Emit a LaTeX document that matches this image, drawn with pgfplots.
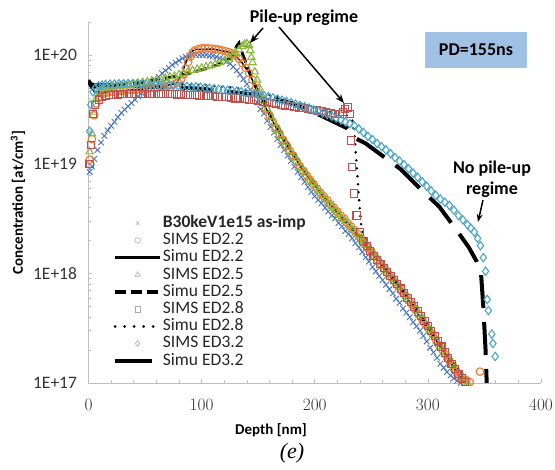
\documentclass[border=0pt]{standalone}
\usepackage{pgfplots}
\pgfplotsset{compat=1.18}
\usepackage{fontspec}
\setmainfont{Carlito}
\newfontfamily\timesfont{Liberation Serif}
\usetikzlibrary{arrows.meta}
\definecolor{cblue}{RGB}{70,114,196}
\definecolor{corange}{RGB}{237,125,49}
\definecolor{cgreen}{RGB}{140,182,60}
\definecolor{cred}{RGB}{192,80,77}
\definecolor{ccyan}{RGB}{75,165,200}
\definecolor{pdbox}{RGB}{160,192,228}
\definecolor{axgray}{RGB}{190,190,190}
\definecolor{lggray}{RGB}{170,170,170}
\begin{document}
\begin{tikzpicture}
\path[use as bounding box] (-88.5pt,-87pt) rectangle (466.5pt,383pt);
\begin{axis}[
  scale only axis, width=452.5pt, height=361pt,
  at={(0pt,0pt)}, anchor=south west,
  xmin=0, xmax=400, ymin=1e17, ymax=2e20, ymode=log,
  axis lines*=left,
  axis line style={draw=axgray, line width=0.8pt},
  tick style={draw=axgray, line width=0.6pt},
  tick align=inside,
  major tick length=4pt, minor tick length=3pt,
  xtick={0,100,200,300,400},
  minor xtick={20,40,60,80,120,140,160,180,220,240,260,280,320,340,360,380},
  ytick={1e17,1e18,1e19,1e20},
  yticklabels={1E+17,1E+18,1E+19,1E+20},
  minor ytick={2e17,3e17,4e17,5e17,6e17,7e17,8e17,9e17,2e18,3e18,4e18,5e18,6e18,7e18,8e18,9e18,2e19,3e19,4e19,5e19,6e19,7e19,8e19,9e19,2e20},
  ticklabel style={font=\fontsize{17.5}{20}\selectfont, text=black!80},
  xticklabel style={yshift=-13pt},
  yticklabel style={xshift=-8pt},
  legend style={at={(0.054,0.467)}, anchor=north west, draw=none, fill=none,
    inner sep=0pt, row sep=0pt, font=\fontsize{17.5}{20}\selectfont,
    nodes={inner sep=1pt, text height=12pt, text depth=3.2pt, text=black!85}},
  legend cell align=left,
  legend image code/.code={\draw[mark repeat=2,mark phase=2] plot coordinates {(0pt,0pt)(22.5pt,0pt)(45pt,0pt)};},
]
% ---- legend images ----
\addlegendimage{only marks, mark=x, mark size=2.5pt, draw=lggray, line width=0.6pt}
\addlegendentry{\textbf{B30keV1e15 as-imp}}
\addlegendimage{only marks, mark=o, mark size=2.8pt, draw=lggray, line width=0.6pt}
\addlegendentry{SIMS ED2.2}
\addlegendimage{black, line width=3.5pt}
\addlegendentry{Simu ED2.2}
\addlegendimage{only marks, mark=triangle, mark size=3pt, draw=lggray, line width=0.6pt}
\addlegendentry{SIMS ED2.5}
\addlegendimage{black, line width=3.5pt, dash pattern=on 11pt off 5pt}
\addlegendentry{Simu ED2.5}
\addlegendimage{only marks, mark=square, mark size=2.8pt, draw=lggray, line width=0.6pt}
\addlegendentry{SIMS ED2.8}
\addlegendimage{black, line width=3pt, line cap=round, dash pattern=on 0pt off 9.5pt}
\addlegendentry{Simu ED2.8}
\addlegendimage{only marks, mark=diamond, mark size=3pt, draw=lggray, line width=0.6pt}
\addlegendentry{SIMS ED3.2}
\addlegendimage{black, line width=4pt, legend image code/.code={\draw (0pt,0pt)--(37pt,0pt);}}
\addlegendentry{Simu ED3.2}
% ---- B30keV1e15 as-imp ----
\addplot[forget plot, only marks, mark=x, mark size=4pt, draw=cblue, line width=0.9pt] coordinates {
(1,8.5e18)(3,9.5e18)(5,1.12e19)(8,1.35e19)(11,1.58e19)(14,1.82e19)(17,2.04e19)(20,2.24e19)
(23,2.45e19)(26,2.7e19)(29,2.95e19)(32,3.16e19)(35,3.39e19)(38,3.63e19)(41,3.9e19)(44,4.17e19)
(47,4.47e19)(50,4.8e19)(53,5.1e19)(56,5.5e19)(59,5.9e19)(62,6.3e19)(65,6.8e19)(68,7.2e19)
(71,7.6e19)(74,8.1e19)(77,8.5e19)(80,8.9e19)(83,9.3e19)(86,9.6e19)(89,9.8e19)(92,1.0e20)
(95,1.0e20)(98,1.0e20)(101,1.0e20)(104,1.0e20)(107,9.8e19)(110,9.8e19)(113,9.6e19)(116,9.3e19)
(119,9.1e19)(122,8.7e19)(125,8.3e19)(128,7.8e19)(131,7.2e19)(134,6.6e19)(137,6.0e19)(140,5.4e19)
(143,4.8e19)(146,4.3e19)(149,3.7e19)(152,3.2e19)(155,2.9e19)(158,2.5e19)(161,2.2e19)(164,1.95e19)
(167,1.7e19)(170,1.5e19)(173,1.35e19)(176,1.2e19)(179,1.07e19)(182,9.5e18)(185,8.5e18)(188,7.6e18)
(191,6.9e18)(194,6.2e18)(197,5.6e18)(200,5.1e18)(203,4.7e18)(206,4.4e18)(209,4.0e18)(212,3.7e18)
(215,3.4e18)(218,3.2e18)(221,2.9e18)(224,2.7e18)(227,2.45e18)(230,2.3e18)(233,2.1e18)(236,1.9e18)
(239,1.74e18)(242,1.58e18)(245,1.41e18)(248,1.29e18)(251,1.15e18)(254,1.05e18)(257,9.5e17)(260,8.7e17)
(263,7.9e17)(266,7.2e17)(269,6.6e17)(272,5.9e17)(275,5.4e17)(278,4.8e17)(281,4.4e17)(284,4.0e17)
(287,3.6e17)(290,3.3e17)(293,3.0e17)(296,2.7e17)(299,2.4e17)(302,2.1e17)(305,1.9e17)(308,1.7e17)
(311,1.5e17)(314,1.38e17)(317,1.26e17)(320,1.17e17)(323,1.1e17)(326,1.05e17)(329,1.0e17)
};
% ---- SIMS ED2.2 ----
\addplot[forget plot, only marks, mark=o, mark size=3.8pt, draw=corange, line width=1.1pt] coordinates {
(1,1.1e19)(3,1.7e19)(5,2.8e19)(7,3.6e19)(10,4.1e19)(13,4.4e19)(16,4.5e19)(19,4.6e19)
(22,4.6e19)(25,4.7e19)(28,4.7e19)(31,4.7e19)(34,4.8e19)(37,4.8e19)(40,4.8e19)(43,4.8e19)
(46,4.9e19)(49,4.9e19)(52,4.9e19)(55,5.0e19)(58,5.0e19)(61,5.0e19)(64,5.1e19)(67,5.1e19)
(70,5.2e19)(73,5.3e19)(76,5.4e19)(79,5.6e19)(82,6.0e19)(84,6.6e19)(86,7.5e19)(88,8.6e19)
(90,9.6e19)(92,1.05e20)(94,1.1e20)(97,1.13e20)(100,1.15e20)(103,1.15e20)(106,1.15e20)(109,1.14e20)
(112,1.13e20)(115,1.12e20)(118,1.1e20)(121,1.08e20)(124,1.06e20)(127,1.03e20)(130,9.8e19)(133,9.2e19)
(136,8.4e19)(139,7.6e19)(142,6.8e19)(145,5.9e19)(148,5.0e19)(151,4.3e19)(154,3.7e19)(157,3.2e19)
(160,2.8e19)(163,2.45e19)(166,2.15e19)(169,1.9e19)(172,1.68e19)(175,1.5e19)(178,1.33e19)(181,1.2e19)
(184,1.07e19)(187,9.6e18)(190,8.7e18)(193,7.9e18)(196,7.2e18)(199,6.6e18)(202,6.0e18)(205,5.5e18)
(208,5.1e18)(211,4.7e18)(214,4.3e18)(217,4.0e18)(220,3.7e18)(223,3.4e18)(226,3.2e18)(229,2.9e18)
(232,2.7e18)(235,2.5e18)(238,2.3e18)(241,2.1e18)(244,1.9e18)(247,1.75e18)(250,1.6e18)(253,1.45e18)
(256,1.32e18)(259,1.2e18)(262,1.1e18)(265,1.0e18)(268,9.2e17)(271,8.4e17)(274,7.6e17)(277,6.9e17)
(280,6.3e17)(283,5.7e17)(286,5.2e17)(289,4.7e17)(292,4.2e17)(295,3.8e17)(298,3.4e17)(301,3.1e17)
(304,2.8e17)(307,2.5e17)(310,2.2e17)(313,2.0e17)(316,1.8e17)(319,1.6e17)(322,1.45e17)(325,1.3e17)
(328,1.2e17)(331,1.12e17)(334,1.06e17)(337,1.02e17)(346,1.27e17)
};
% ---- Simu ED2.2 ----
\addplot[forget plot, black, line width=1.5pt] coordinates {
(0,5.6e19)(2,5.2e19)(5,4.6e19)(10,4.6e19)(30,4.7e19)(60,5.0e19)(78,5.5e19)(82,6.5e19)
(86,8.5e19)(90,1.05e20)(94,1.12e20)(110,1.13e20)(124,1.06e20)(130,9.8e19)(136,8.4e19)(142,6.8e19)
(150,4.5e19)(160,2.8e19)(170,1.8e19)(180,1.25e19)(190,8.7e18)(200,6.4e18)(220,3.7e18)(240,2.2e18)
(260,1.2e18)(280,6.3e17)(300,3.2e17)(320,1.55e17)(332,1.0e17)
};
% ---- SIMS ED2.5 ----
\addplot[forget plot, only marks, mark=triangle, mark size=4.2pt, draw=cgreen, line width=1.1pt] coordinates {
(1,1.3e19)(3,1.9e19)(5,3.0e19)(7,4.0e19)(10,4.6e19)(13,4.9e19)(16,5.0e19)(20,5.1e19)
(24,5.2e19)(28,5.2e19)(32,5.3e19)(36,5.3e19)(40,5.4e19)(44,5.5e19)(48,5.6e19)(52,5.7e19)
(56,5.8e19)(60,5.9e19)(64,6.0e19)(68,6.1e19)(72,6.3e19)(76,6.4e19)(80,6.6e19)(84,6.8e19)
(88,7.0e19)(92,7.2e19)(96,7.4e19)(100,7.6e19)(104,7.8e19)(108,8.0e19)(112,8.2e19)(116,8.5e19)
(120,8.8e19)(124,9.3e19)(127,9.9e19)(130,1.05e20)(133,1.12e20)(136,1.2e20)(138,1.25e20)(140,1.27e20)
(142,1.22e20)(143,1.1e20)(144,9.5e19)(145,8.5e19)(147,7.0e19)(149,5.9e19)(151,5.0e19)(153,4.3e19)
(155,3.8e19)(158,3.2e19)(161,2.7e19)(164,2.35e19)(167,2.05e19)(170,1.8e19)(173,1.6e19)(176,1.42e19)
(179,1.27e19)(182,1.14e19)(185,1.02e19)(188,9.2e18)(191,8.3e18)(194,7.5e18)(197,6.8e18)(200,6.2e18)
(203,5.7e18)(206,5.2e18)(209,4.8e18)(212,4.4e18)(215,4.1e18)(218,3.8e18)(221,3.5e18)(224,3.2e18)
(227,3.0e18)(230,2.75e18)(233,2.55e18)(236,2.35e18)(239,2.15e18)(242,2.0e18)(245,1.82e18)(248,1.67e18)
(251,1.52e18)(254,1.4e18)(257,1.28e18)(260,1.17e18)(263,1.07e18)(266,9.8e17)(269,9.0e17)(272,8.2e17)
(275,7.5e17)(278,6.8e17)(281,6.2e17)(284,5.6e17)(287,5.1e17)(290,4.6e17)(293,4.2e17)(296,3.8e17)
(299,3.4e17)(302,3.0e17)(305,2.7e17)(308,2.4e17)(311,2.15e17)(314,1.9e17)(317,1.7e17)(320,1.5e17)
(323,1.35e17)(326,1.22e17)(329,1.12e17)(332,1.05e17)(335,1.0e17)
};
% ---- Simu ED2.5 ----
\addplot[forget plot, black, line width=3pt, dash pattern=on 11pt off 5pt] coordinates {
(0,5.6e19)(3,5.0e19)(10,5.2e19)(40,5.5e19)(80,6.4e19)(110,7.8e19)(122,8.8e19)(128,1.0e20)
(131,1.2e20)(133,1.28e20)(135,1.1e20)(140,8e19)(146,5.5e19)(155,3.8e19)(165,2.4e19)(175,1.6e19)
(190,9e18)(210,4.8e18)(230,2.8e18)(250,1.6e18)(270,8.8e17)(290,4.6e17)(310,2.3e17)(330,1.15e17)(334,1.0e17)
};
% ---- SIMS ED2.8 ----
\addplot[forget plot, only marks, mark=square, mark size=3.6pt, draw=cred, line width=1.1pt] coordinates {
(1,1.0e19)(2,1.5e19)(4,2.9e19)(6,3.5e19)(9,3.9e19)(12,4.1e19)(15,4.2e19)(18,4.3e19)
(22,4.3e19)(26,4.35e19)(30,4.4e19)(34,4.4e19)(38,4.4e19)(42,4.4e19)(46,4.4e19)(50,4.4e19)
(54,4.4e19)(58,4.4e19)(62,4.4e19)(66,4.4e19)(70,4.4e19)(74,4.4e19)(78,4.35e19)(82,4.35e19)
(86,4.3e19)(90,4.3e19)(94,4.3e19)(98,4.25e19)(102,4.25e19)(106,4.2e19)(110,4.2e19)(114,4.15e19)
(118,4.1e19)(122,4.1e19)(126,4.05e19)(130,4.0e19)(134,4.0e19)(138,3.95e19)(142,3.9e19)(146,3.85e19)
(150,3.8e19)(154,3.75e19)(158,3.7e19)(162,3.65e19)(166,3.6e19)(170,3.5e19)(174,3.45e19)(178,3.4e19)
(182,3.35e19)(186,3.3e19)(190,3.25e19)(194,3.2e19)(198,3.15e19)(202,3.1e19)(206,3.05e19)(210,3.0e19)
(214,2.95e19)(218,2.9e19)(222,2.9e19)(225,3.0e19)(227,3.2e19)(229,3.3e19)(231,2.9e19)
(232,1.65e19)(233,9.5e18)(234.5,5.4e18)(237,3.4e18)(240,2.4e18)
(243,2.0e18)(246,1.8e18)(249,1.6e18)(252,1.45e18)(255,1.33e18)(258,1.22e18)(261,1.12e18)(264,1.03e18)
(267,9.5e17)(270,8.7e17)(273,8.0e17)(276,7.3e17)(279,6.6e17)(282,6.0e17)(285,5.5e17)(288,5.0e17)
(291,4.5e17)(294,4.1e17)(297,3.7e17)(300,3.3e17)(303,3.0e17)(306,2.7e17)(309,2.4e17)(312,2.15e17)
(315,1.9e17)(318,1.7e17)(321,1.5e17)(324,1.35e17)(327,1.2e17)(330,1.1e17)(333,1.02e17)
};
% ---- Simu ED2.8 ----
\addplot[forget plot, black, line width=2.8pt, line cap=round, dash pattern=on 0pt off 8pt] coordinates {
(0,5.8e19)(3,5.3e19)(10,5.4e19)(60,5.5e19)(100,5.3e19)(130,5.0e19)(160,4.3e19)(190,3.5e19)
(215,3.0e19)(228,2.8e19)(233,2.6e19)(235,1.9e19)(237,1.0e19)(239,5e18)(241,2.8e18)(243,2.2e18)
(250,1.7e18)(270,9e17)(290,4.8e17)(310,2.4e17)(330,1.15e17)(334,1.0e17)
};
% ---- SIMS ED3.2 ----
\addplot[forget plot, only marks, mark=diamond, mark size=4.2pt, draw=ccyan, line width=1.1pt] coordinates {
(1,2.0e19)(2,3.5e19)(4,4.6e19)(6,5.0e19)(9,5.2e19)(12,5.3e19)(15,5.35e19)(19,5.4e19)
(23,5.4e19)(27,5.45e19)(31,5.45e19)(35,5.45e19)(39,5.45e19)(43,5.45e19)(47,5.4e19)(51,5.4e19)
(55,5.35e19)(59,5.35e19)(63,5.3e19)(67,5.3e19)(71,5.25e19)(75,5.25e19)(79,5.2e19)(83,5.2e19)
(87,5.15e19)(91,5.1e19)(95,5.1e19)(99,5.05e19)(103,5.0e19)(107,4.95e19)(111,4.9e19)(115,4.85e19)
(119,4.8e19)(123,4.75e19)(127,4.7e19)(131,4.65e19)(135,4.6e19)(139,4.5e19)(143,4.45e19)(147,4.4e19)
(151,4.3e19)(155,4.25e19)(159,4.15e19)(163,4.05e19)(167,3.95e19)(171,3.85e19)(175,3.75e19)(179,3.65e19)
(183,3.55e19)(187,3.45e19)(191,3.35e19)(195,3.25e19)(199,3.15e19)(203,3.05e19)(207,2.95e19)(211,2.85e19)
(215,2.75e19)(219,2.65e19)(223,2.55e19)(227,2.45e19)(231,2.35e19)(235,2.25e19)(239,2.1e19)(243,1.95e19)
(247,1.8e19)(251,1.68e19)(255,1.55e19)(259,1.45e19)(263,1.35e19)(267,1.25e19)(271,1.15e19)(275,1.07e19)
(279,9.9e18)(283,9.1e18)(287,8.3e18)(291,7.6e18)(295,6.9e18)(299,6.3e18)(303,5.7e18)(307,5.2e18)
(311,4.8e18)(315,4.5e18)(319,4.2e18)(323,3.8e18)(327,3.4e18)(331,3.1e18)(335,2.8e18)(338,2.6e18)
(341,2.4e18)(344,2.1e18)(346.5,1.8e18)(349,1.4e18)(351,1.05e18)(352.5,5.8e17)(353.5,4.6e17)(356.5,2.8e17)
(357.5,2.3e17)(359.5,1.75e17)
};
% ---- Simu ED3.2 ----
\addplot[forget plot, black, line width=4pt, dash pattern=on 33pt off 14pt] coordinates {
(0,5.8e19)(2,5.4e19)(5,5.3e19)(50,5.2e19)(100,4.9e19)(150,4.3e19)(180,3.6e19)(205,2.8e19)
(228,2.15e19)(235,1.75e19)(245,1.55e19)(262,1.15e19)(276,9e18)(296,5.6e18)(310,4.1e18)(326,2.45e18)
(336,1.75e18)(343,1.3e18)(347,1.0e18)(349,5e17)(351,2e17)(352,1e17)
};
\end{axis}
% ---- annotations ----
\node[font=\fontsize{15}{18}\selectfont\bfseries, rotate=90] at (-70.5pt,180.5pt) {Concentration [at/cm\textsuperscript{3}]};
\node[font=\fontsize{15}{18}\selectfont\bfseries] at (182.5pt,-47pt) {Depth [nm]};
\node[font=\fontsize{22}{25}\selectfont\timesfont\itshape] at (203.5pt,-70pt) {(e)};
\node[font=\fontsize{18}{21}\selectfont\bfseries] at (215.5pt,365pt) {Pile-up regime};
\draw[line width=1.5pt, -{Stealth[length=9pt,width=7pt]}] (174.5pt,355pt) -- (161.5pt,340pt);
\draw[line width=1.5pt, -{Stealth[length=9pt,width=7pt]}] (190.5pt,356pt) -- (255.5pt,280pt);
\fill[pdbox] (336.5pt,315pt) rectangle (438.5pt,351pt);
\node[font=\fontsize{18}{21}\selectfont\bfseries] at (387.5pt,333pt) {PD=155ns};
\node[font=\fontsize{18}{21}\selectfont\bfseries, align=center] at (403.5pt,204pt) {No pile-up\\regime};
\draw[line width=1.5pt, -{Stealth[length=8pt,width=6pt]}] (394.5pt,183pt) -- (389.5pt,161pt);
\end{tikzpicture}
\end{document}
